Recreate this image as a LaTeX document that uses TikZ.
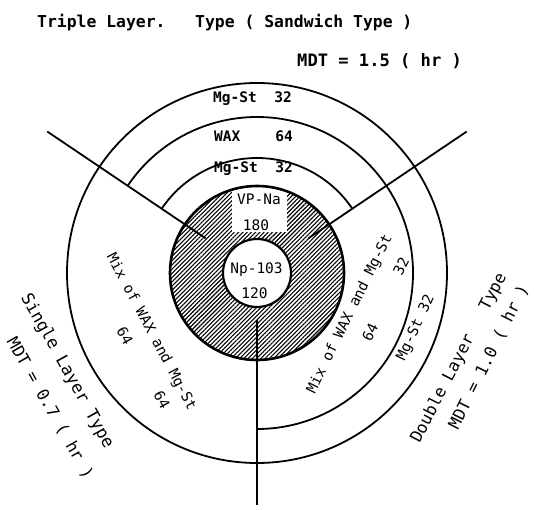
\documentclass[tikz,border=0pt]{standalone}
\usepackage{fontspec}
\setmainfont{DejaVu Sans Mono}
\usetikzlibrary{patterns.meta,calc}
\begin{document}
\begin{tikzpicture}[x=1pt,y=1pt,
  ring/.style={line width=1.8pt},
  radial/.style={line width=1.8pt},
  lab/.style={font=\fontsize{14.5}{14.5}\selectfont, inner sep=0pt},
  labb/.style={font=\fontsize{14.5}{14.5}\selectfont\bfseries, inner sep=0pt},
  big/.style={font=\fontsize{16.5}{16.5}\selectfont, inner sep=0pt},
  title/.style={font=\fontsize{16.4}{16.4}\selectfont\bfseries, inner sep=0pt},
]
\useasboundingbox (0,0) rectangle (534,509);
\coordinate (c) at (257,236);
% hatched core
\fill[pattern={Lines[angle=45,distance=3pt,line width=1.1pt]}] (c) circle (87);
\fill[white] (232,277) rectangle (287,322);
\draw[line width=2.6pt] (c) circle (87);
\draw[line width=2.2pt, fill=white] (c) circle (34);
% rings
\draw[ring] (c) circle (190);
\coordinate (r2s) at ($(c)+(-90:156)$);
\draw[ring] (r2s) arc[start angle=-90, end angle=146, radius=156];
\coordinate (r3s) at ($(c)+(34:115)$);
\draw[ring] (r3s) arc[start angle=34, end angle=146, radius=115];
% radial lines
\coordinate (ulin) at ($(c)+(146:62)$);
\coordinate (ulout) at ($(c)+(146:253)$);
\coordinate (urin) at ($(c)+(34:62)$);
\coordinate (urout) at ($(c)+(34:253)$);
\coordinate (bin) at ($(c)+(270:47)$);
\coordinate (bout) at ($(c)+(270:232)$);
\draw[radial] (ulin) -- (ulout);
\draw[radial] (urin) -- (urout);
\draw[radial] (bin) -- (bout);
% titles
\node[title, anchor=base west] (t1) at (37,481) {Triple Layer.~~~Type ( Sandwich Type )};
\node[title, anchor=base west, font=\fontsize{17.1}{17.1}\selectfont\bfseries] (t2) at (297,442) {MDT = 1.5 ( hr )};
% top layers
\node[labb, anchor=base west] (l1) at (213,406) {Mg-St~~32};
\node[labb, anchor=base west] (l2) at (214,367) {WAX~~~~64};
\node[labb, anchor=base west] (l3) at (214,336) {Mg-St~~32};
\node[lab, anchor=base] (vp) at (259,304) {VP-Na};
\node[lab, anchor=base] (vpn) at (256,279) {180};
\node[lab, anchor=base] (np) at (256.5,236) {Np-103};
\node[lab, anchor=base] (npn) at (254.5,211) {120};
% left side
\node[lab, rotate=-62] (lmix) at (151,177) {Mix of WAX and Mg-St};
\node[lab, rotate=-62] (l64a) at (125,173) {64};
\node[lab, rotate=-62] (l64b) at (162,109) {64};
\node[big, font=\fontsize{17}{17}\selectfont, rotate=-61] (single) at (67,138) {Single Layer Type};
\node[big, rotate=-60.5] (lmdt) at (50,101) {MDT = 0.7 ( hr )};
% right side
\node[lab, rotate=63.7] (rmix) at (350,195) {Mix of WAX and Mg-St};
\node[lab, rotate=64] (r32) at (401,243) {32};
\node[lab, rotate=64] (r64) at (370,177) {64};
\node[lab, rotate=65] (rmg) at (416,181) {Mg-St 32};
\node[big, rotate=62.5] (double) at (459,151) {Double Layer~~~Type};
\node[big, rotate=63.5] (rmdt) at (489,152) {MDT = 1.0 ( hr )};
\end{tikzpicture}
\end{document}
